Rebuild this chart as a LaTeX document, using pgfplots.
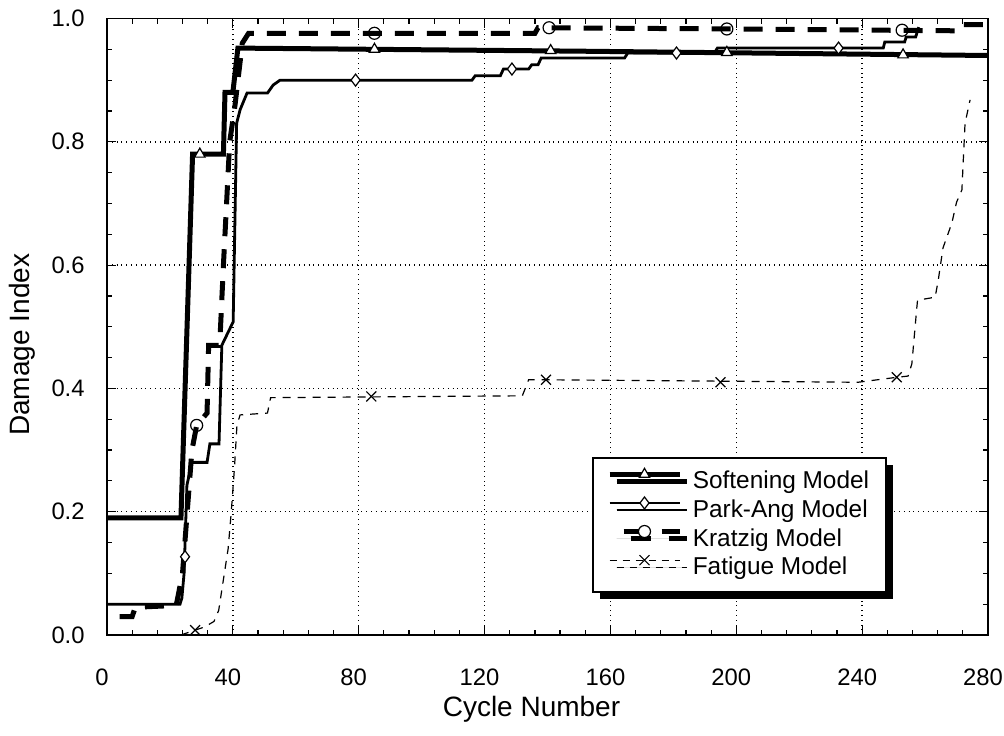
\documentclass[border=0pt]{standalone}
\usepackage{fontspec}
\setmainfont{Liberation Sans}
\usepackage{pgfplots}
\pgfplotsset{compat=1.18}
\usetikzlibrary{shadows}

\pgfplotstableread{
x y
0 0.19
23.5 0.19
27.2 0.78
37 0.78
37.5 0.88
40 0.88
41.6 0.952
150 0.947
280 0.94
}\soft
\pgfplotstableread{
x y
29.5 0.78
85 0.95
141 0.948
197 0.945
253 0.941
}\softm
\pgfplotstableread{
x y
0 0.05
23.2 0.05
23.8 0.06
24.5 0.10
25.4 0.243
27 0.28
31.8 0.28
32.7 0.31
35.6 0.31
36.5 0.47
40.1 0.508
41.2 0.83
42.3 0.852
44.5 0.879
51 0.879
52.8 0.892
55 0.90
116 0.90
117 0.907
125 0.907
126 0.918
134 0.918
135 0.925
137 0.925
138 0.936
164.5 0.936
165.5 0.944
193 0.944
194 0.952
246.7 0.952
247.2 0.962
253.5 0.962
254 0.97
257 0.97
258 0.986
}\park
\pgfplotstableread{
x y
24.8 0.127
79 0.90
128.7 0.918
181 0.944
232.5 0.952
}\parkm
\pgfplotstableread{
x y
4 0.03
8 0.03
9 0.045
22 0.048
24 0.10
27 0.30
28.5 0.34
31.8 0.36
32.3 0.47
35.5 0.47
36 0.49
37 0.60
38 0.70
39 0.80
40.7 0.86
43 0.96
45 0.976
136 0.976
137 0.985
200 0.983
271 0.98
272 0.99
280 0.99
}\kratz
\pgfplotstableread{
x y
28.5 0.34
85 0.976
140.5 0.985
197 0.983
252.7 0.981
}\kratzm
\pgfplotstableread{
x y
23.5 0.0
28 0.008
31 0.013
34 0.022
35.5 0.04
37 0.09
38.5 0.14
39.5 0.20
40.5 0.27
41.3 0.34
42.3 0.357
51 0.36
52 0.385
132 0.388
134 0.414
139.5 0.414
238.7 0.41
251 0.418
254.6 0.42
255.8 0.44
257.3 0.527
257.6 0.543
263.2 0.548
264.2 0.576
265.7 0.628
268.5 0.668
270 0.702
271.7 0.722
272.7 0.83
274.3 0.868
}\fat
\pgfplotstableread{
x y
28 0.008
84 0.387
139.5 0.414
195 0.41
251 0.418
}\fatm

\begin{document}
\begin{tikzpicture}
\path[use as bounding box] (-53.5pt,-50pt) rectangle (448.5pt,317.5pt);
\begin{axis}[
  at={(0,0)}, anchor=south west,
  scale only axis, width=440.5pt, height=308.25pt,
  xmin=0, xmax=280, ymin=0, ymax=1,
  xtick={0,40,80,120,160,200,240,280},
  ytick={0,0.2,0.4,0.6,0.8,1},
  minor x tick num=4, minor y tick num=3,
  tick align=inside, xtick pos=both, ytick pos=both,
  major tick length=4.5pt, minor tick length=2.5pt,
  grid=major, grid style={dotted, black, line width=0.7pt},
  axis line style={line width=0.7pt, black},
  tick style={black, line width=0.6pt},
  /pgf/number format/assume math mode=true,
  tick label style={font=\fontsize{11.9}{14}\selectfont},
  xticklabel style={anchor=center, yshift=-21pt, xshift=-2.5pt},
  yticklabel style={anchor=east, inner sep=0pt, xshift=-11pt,
    /pgf/number format/fixed, /pgf/number format/fixed zerofill,
    /pgf/number format/precision=1},
  xlabel style={yshift=1.5pt, xshift=-8pt, font=\fontsize{14}{16}\selectfont},
  every axis y label/.style={at={(axis description cs:-0.0965,0.4708)}, rotate=90, anchor=center, font=\fontsize{14}{16}\selectfont},
  xlabel={Cycle Number}, ylabel={Damage Index},
  legend image code/.code={\draw[mark repeat=2, mark phase=2, #1] plot coordinates {(0pt,4pt) (17.5pt,4pt) (35pt,4pt)};},
  legend cell align=left,
  legend style={at={(axis description cs:0.5505,0.2887)}, anchor=north west,
    draw=black, line width=1pt, fill=white,
    drop shadow={shadow xshift=3.5pt, shadow yshift=-3.5pt, opacity=1, fill=black},
    font=\fontsize{12.2}{14}\selectfont,
    inner xsep=7pt, inner ysep=5pt, row sep=0pt,
    /tikz/every odd column/.append style={column sep=4pt},
    nodes={inner sep=1.4pt, text height=9pt, text depth=2.5pt}},
]
\addplot[forget plot, black, line width=0.6pt, dash pattern=on 4pt off 3.5pt] table {\fat};
\addplot[forget plot, only marks, black, mark=x, mark size=3.5pt, mark options={solid, line width=0.6pt}] table {\fatm};
\addplot[forget plot, black, line width=1.4pt] table {\park};
\addplot[forget plot, only marks, black, mark=diamond*, mark size=3pt, mark options={solid, fill=white, line width=0.6pt}] table {\parkm};
\addplot[forget plot, black, line width=2.5pt, dash pattern=on 9.5pt off 6.5pt] table {\kratz};
\addplot[forget plot, only marks, black, mark=o, mark size=3pt, mark options={solid, fill=white, line width=0.6pt}] table {\kratzm};
\addplot[forget plot, black, line width=2.5pt] table {\soft};
\addplot[forget plot, only marks, black, mark=triangle*, mark size=3pt, mark options={solid, fill=white, line width=0.6pt}] table {\softm};

\addlegendimage{black, line width=2.5pt, mark=triangle*, mark size=3pt, mark options={solid, fill=white, line width=0.6pt}}
\addlegendentry{Softening Model}
\addlegendimage{black, line width=1.4pt, mark=diamond*, mark size=3pt, mark options={solid, fill=white, line width=0.6pt}}
\addlegendentry{Park-Ang Model}
\addlegendimage{black, line width=2.5pt, dash pattern=on 10pt off 9pt, dash phase=-7pt, mark=*, mark size=3pt, mark options={solid, fill=white, line width=0.6pt}}
\addlegendentry{Kratzig Model}
\addlegendimage{black, line width=0.6pt, dash pattern=on 3.5pt off 3pt, mark=x, mark size=3.5pt, mark options={solid, line width=0.6pt}}
\addlegendentry{Fatigue Model}
\end{axis}
\end{tikzpicture}
\end{document}
